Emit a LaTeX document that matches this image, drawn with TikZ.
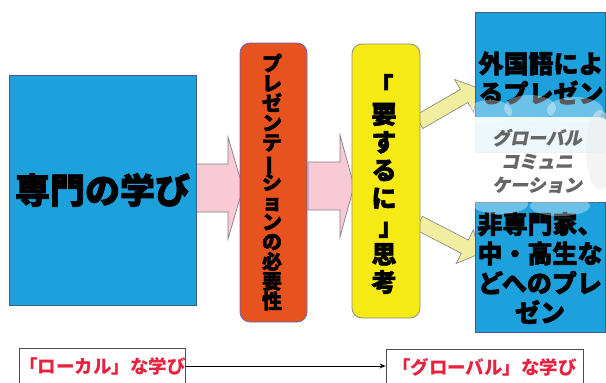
\documentclass[tikz,border=0pt]{standalone}
\usepackage{fontspec}
\usetikzlibrary{calc,arrows.meta}
\newfontfamily\jp{Noto Sans CJK JP}
\newfontfamily\jpheavy{Noto Sans CJK JP}[BoldFeatures={FakeBold=2.2}]
\newfontfamily\jpslant{Noto Sans CJK JP}[BoldFeatures={FakeSlant=0.2, FakeBold=0.8}]
\definecolor{skyb}{HTML}{1DA1DC}
\definecolor{edgeb}{HTML}{3B5E86}
\definecolor{orng}{HTML}{E6531F}
\definecolor{yell}{HTML}{F5EA14}
\definecolor{pinkA}{HTML}{F7CAD6}
\definecolor{yarrow}{HTML}{F2EEA0}
\definecolor{redtxt}{HTML}{E8213F}
\newcommand\vbar{\rotatebox[origin=c]{90}{ー}}
% vertical stack of characters: baselineskip, lines separated by \cr
\newcommand\vtext[2]{\vbox{\baselineskip=#1\lineskiplimit=-100pt\lineskip=0pt\halign{\hfil##\hfil\cr#2\cr}}}
% block arrow: style, from, to, half shaft, half head, head length
\newcommand\blockarrow[6]{%
  \coordinate (#2-#3-h) at ($(#3)!#6!(#2)$);
  \draw[#1] ($(#2)!#4!90:(#3)$) -- ($(#2-#3-h)!#4!90:(#3)$) -- ($(#2-#3-h)!#5!90:(#3)$)
    -- (#3) -- ($(#2-#3-h)!#5!-90:(#3)$) -- ($(#2-#3-h)!#4!-90:(#3)$) -- ($(#2)!#4!-90:(#3)$) -- cycle;}
\begin{document}
\begin{tikzpicture}[x=1pt,y=-1pt,
  bluebox/.style={fill=skyb, draw=edgeb, line width=0.8pt, inner sep=0pt},
  roundbox/.style={draw=black!45, line width=0.8pt, rounded corners=10pt, inner sep=0pt},
  pinkarrow/.style={fill=pinkA, draw=black!50, line width=0.7pt, line join=miter},
  yellarrow/.style={fill=yarrow, draw=black!45, line width=0.7pt, line join=miter},
  bigtxt/.style={font=\jpheavy\bfseries\fontsize{35}{40}\selectfont, text=black},
  midtxt/.style={font=\jpheavy\bfseries\fontsize{25}{29.5}\selectfont, text=black, align=center, inner sep=0pt},
  labelbox/.style={draw=black!70, line width=0.8pt, fill=white, inner sep=0pt, text=redtxt,
    font=\jp\bfseries\fontsize{18.5}{20}\selectfont}]
\useasboundingbox[fill=white] (0,0) rectangle (606,383);

% pink block arrows (behind the boxes)
\coordinate (pa1s) at (196,188);
\coordinate (pa1e) at (243,188);
\coordinate (pa2s) at (308,186);
\coordinate (pa2e) at (354,186);
\blockarrow{pinkarrow}{pa1s}{pa1e}{24pt}{51pt}{15pt}
\blockarrow{pinkarrow}{pa2s}{pa2e}{24pt}{51pt}{14pt}

% yellow block arrows
\coordinate (ya1s) at (419,122);
\coordinate (ya1e) at (478,88);
\coordinate (ya2s) at (419,223);
\coordinate (ya2e) at (479,254);
\blockarrow{yellarrow}{ya1s}{ya1e}{7.5pt}{19pt}{16pt}
\blockarrow{yellarrow}{ya2s}{ya2e}{7.5pt}{19pt}{16pt}

% left box
\node[bluebox, minimum width=187pt, minimum height=230pt] (senmon) at (102.5,190) {};
\node[bigtxt] (senmonT) at (senmon.center) {専門の学び};

% orange box
\node[roundbox, fill=orng, draw=black!40!blue!60, minimum width=67pt, minimum height=279pt] (pres) at (273.5,182.5) {};
\node[font=\jpheavy\bfseries\fontsize{20}{20}\selectfont, inner sep=0pt] (presT) at (272,182)
  {\vtext{19.8pt}{プ\cr レ\cr ゼ\cr ン\cr テ\cr\vbar\cr シ\cr ョ\cr ン\cr の\cr 必\cr 要\cr 性}};

% yellow box
\node[roundbox, fill=yell, minimum width=68pt, minimum height=274pt] (yosuru) at (386,181) {};
\node[font=\jpheavy\bfseries\fontsize{25}{25}\selectfont, inner sep=0pt] (yosuruT) at (384,184)
  {\vtext{28pt}{\makebox[25pt][l]{\hspace{-3pt}「}\cr 要\cr す\cr る\cr に\cr \makebox[25pt][l]{\hspace{7pt}」}\cr 思\cr 考}};

% right boxes
\node[bluebox, minimum width=130pt, minimum height=140pt] (gaikoku) at (540,82) {};
\node[midtxt] (gaikokuT) at (541,78) {外国語によ\\るプレゼン};
\node[bluebox, minimum width=130pt, minimum height=130pt] (hisenmon) at (540,267) {};
\node[midtxt] (hisenmonT) at (540,268) {非専門家、\\中・高生な\\どへのプレ\\ゼン};

% cloud
\begin{scope}
  \fill[white, opacity=0.35] (490,112) ellipse (22pt and 12pt);
  \fill[white, opacity=0.35] (530,108) ellipse (26pt and 13pt);
  \fill[white, opacity=0.35] (575,110) ellipse (28pt and 13pt);
  \fill[white, opacity=0.35] (500,204) ellipse (28pt and 10pt);
  \fill[white, opacity=0.35] (560,206) ellipse (30pt and 10pt);
  \fill[white, opacity=0.85] (464,160) ellipse (10pt and 30pt);
  \fill[white, opacity=0.92, rounded corners=14pt] (462,117) rectangle (612,202);
  \fill[black!8, opacity=0.5] (600,150) ellipse (14pt and 40pt);
\end{scope}
\node[font=\jpslant\bfseries\fontsize{18}{23.5}\selectfont, text=black!60, align=center, inner sep=0pt] (cloudT) at (537,161)
  {グローバル\\コミュニ\\ケーション};

% bottom labels
\node[labelbox, minimum width=165pt, minimum height=36pt] (local) at (102.5,366) {「ローカル」な学び};
\node[labelbox, minimum width=197pt, minimum height=36pt] (global) at (484.5,367) {「グローバル」な学び};
\draw[line width=1pt, -{Stealth[length=6pt,width=5pt]}] (local.east) -- (local.east -| global.west);
\end{tikzpicture}
\end{document}
